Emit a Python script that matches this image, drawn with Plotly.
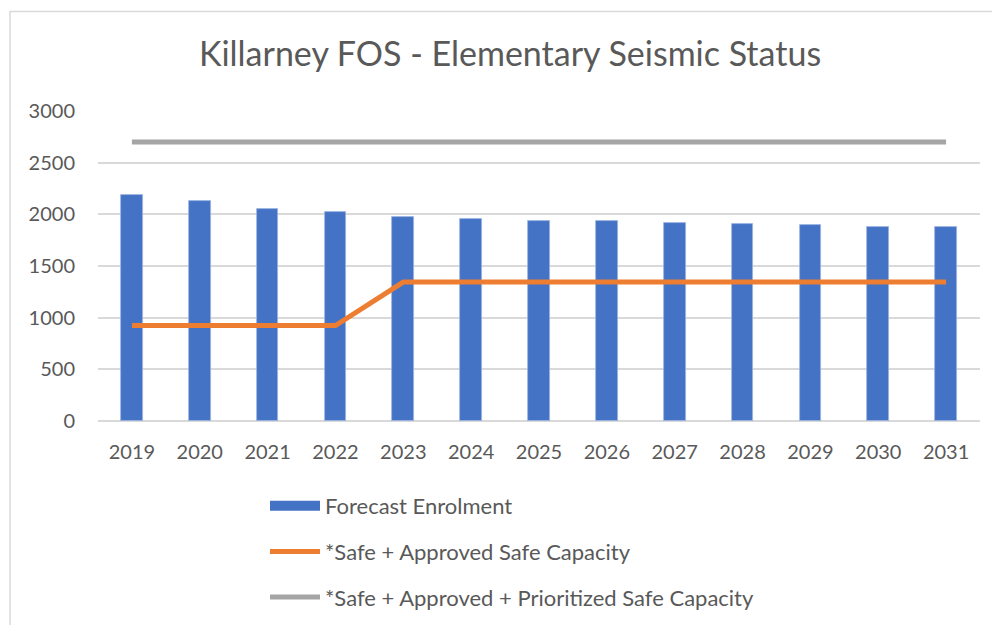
import plotly.graph_objects as go

years = ["2019", "2020", "2021", "2022", "2023", "2024", "2025", "2026", "2027", "2028", "2029", "2030", "2031"]
forecast_enrolment = [2186, 2128, 2051, 2025, 1979, 1954, 1931, 1934, 1915, 1908, 1899, 1879, 1876]
safe_approved = [923, 923, 923, 923, 1344, 1344, 1344, 1344, 1344, 1344, 1344, 1344, 1344]
safe_approved_prioritized = [2700] * 13

FONT = "Lato"
TXT = "#595959"

# page body has an 8px default margin; work in figure coordinates
OFF = 8
W, H = 1000 - OFF, 625 - OFF

fig = go.Figure()
fig.add_trace(go.Bar(
    x=years, y=forecast_enrolment, name="Forecast Enrolment",
    marker=dict(color="#4472C4", line=dict(color="#9DB5E3", width=0.8)),
    width=0.32, showlegend=False,
))
# legend key for the bar series (wide rectangle like the original)
fig.add_trace(go.Scatter(
    x=[None], y=[None], name="Forecast Enrolment", mode="lines",
    line=dict(color="#4472C4", width=13), legendgroup="a",
))
fig.add_trace(go.Scatter(
    x=years, y=safe_approved, name="*Safe + Approved Safe Capacity",
    mode="lines", line=dict(color="#ED7D31", width=5), legendgroup="b",
))
fig.add_trace(go.Scatter(
    x=years, y=safe_approved_prioritized, name="*Safe + Approved + Prioritized Safe Capacity",
    mode="lines", line=dict(color="#A5A5A5", width=5), legendgroup="c",
))

# screen-space plot box
SX0, SX1, SY0, SY1 = 98, 980, 111.3, 421
L = SX0 - OFF
R = W - (SX1 - OFF)
T = SY0 - OFF
B = H - (SY1 - OFF)
pw, ph = W - L - R, H - T - B

def px(sx):
    return (sx - OFF - L) / pw

def py(sy):
    return (H - B - (sy - OFF)) / ph

fig.update_layout(
    width=W, height=H,
    margin=dict(l=L, r=R, t=T, b=B, autoexpand=False),
    paper_bgcolor="white", plot_bgcolor="white",
    font=dict(family=FONT, color=TXT, size=20),
    title=dict(text="Killarney FOS - Elementary Seismic Status", x=(510 - OFF) / W, xref="container",
               xanchor="center", y=1 - (54 - OFF) / H, yref="container", yanchor="middle",
               font=dict(family=FONT, size=34, color=TXT)),
    bargap=0,
    xaxis=dict(type="category", showgrid=False, showline=False, ticks="",
               tickfont=dict(size=20, color=TXT), ticklabelstandoff=17, fixedrange=True),
    yaxis=dict(range=[0, 3000], dtick=500, showgrid=True, gridcolor="#D9D9D9", gridwidth=1.5,
               zeroline=True, zerolinecolor="#D9D9D9", zerolinewidth=1.5,
               showline=False, ticks="", tickfont=dict(size=20, color=TXT), ticklabelstandoff=22,
               fixedrange=True),
    legend=dict(orientation="v", x=px(265), xanchor="left", y=py(485), yanchor="top",
                font=dict(size=22, color=TXT), itemwidth=50, tracegroupgap=14,
                bgcolor="rgba(0,0,0,0)"),
    showlegend=True,
    shapes=[dict(type="rect", xref="paper", yref="paper",
                 x0=px(10), x1=px(1010), y0=py(640), y1=py(12),
                 line=dict(color="#D9D9D9", width=1.5), fillcolor="rgba(0,0,0,0)", layer="below")],
)

fig.write_html("out.html")
